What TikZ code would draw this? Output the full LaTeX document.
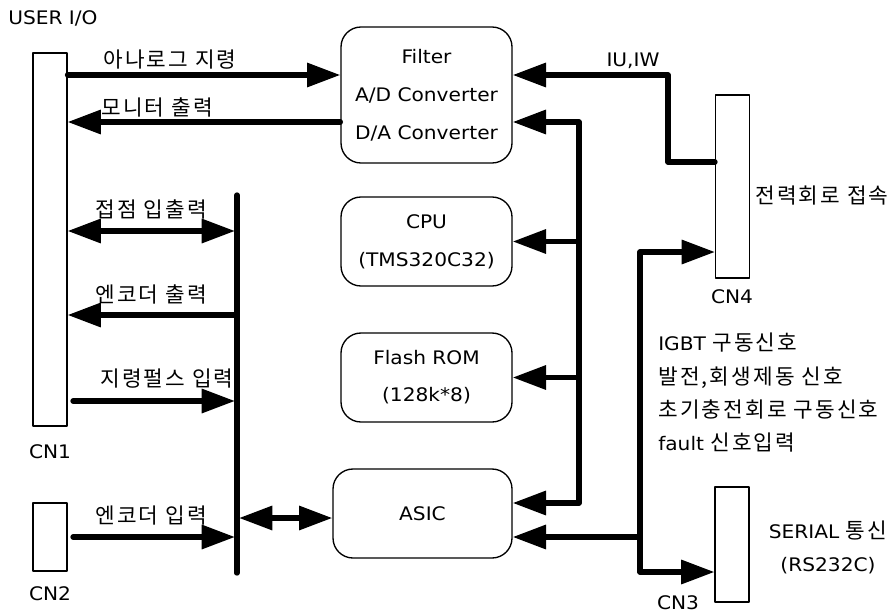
\documentclass[tikz,border=0pt]{standalone}
\usepackage{fontspec}
\setmainfont[FakeStretch=1.08]{DejaVu Sans}
\newfontfamily\kr[LetterSpace=10]{Noto Sans CJK KR}
\newcommand{\kor}[1]{{\kr\fontsize{16pt}{25pt}\selectfont #1}}
\usetikzlibrary{arrows.meta,positioning}

\begin{document}
\begin{tikzpicture}[x=0.75pt,y=-0.75pt,>={Triangle[length=25pt,width=17.5pt]},line cap=round,line join=round]
        \tikzstyle{block}=[rectangle,rounded corners=15pt,draw,line width=1pt,minimum width=128.25pt,minimum height=66.75pt,align=center,font=\fontsize{14pt}{28.5pt}\selectfont]
        \tikzstyle{conn}=[rectangle,draw,line width=0.8pt,minimum width=25.5pt,inner sep=0pt]
        \tikzstyle{lbl}=[inner sep=0pt,font=\fontsize{14pt}{17pt}\selectfont]
        \tikzstyle{sig}=[inner sep=0pt,font=\kr\fontsize{16pt}{18pt}\selectfont]
        \tikzstyle{bus}=[line width=4pt]
        \useasboundingbox (0,0) rectangle (895,614);

        % connectors
        \node[lbl,anchor=west] (userio) at (8,18) {USER I/O};
        \node[conn,minimum height=279.75pt] (cn1) at (50,239.5) {};
        \node[lbl] (cn1lbl) at (50,452) {CN1};
        \node[conn,minimum height=51pt] (cn2) at (50,537) {};
        \node[lbl] (cn2lbl) at (50,594) {CN2};
        \node[conn,minimum height=137.25pt] (cn4) at (732.5,186.5) {};
        \node[lbl] (cn4lbl) at (732,297) {CN4};
        \node[sig,anchor=west] (power) at (755,196) {전력회로 접속};
        \node[conn,minimum height=86.25pt] (cn3) at (732,544.5) {};
        \node[lbl] (cn3lbl) at (678,603) {CN3};
        \node[lbl,align=center,font=\fontsize{14pt}{24.75pt}\selectfont] (serial) at (828,547) {SERIAL \kor{통신}\\(RS232C)};

        % blocks
        \node[block,minimum height=102pt] (filter) at (426.5,95) {Filter\\A/D Converter\\D/A Converter};
        \node[block] (cpu) at (426.5,241.5) {CPU\\(TMS320C32)};
        \node[block,font=\fontsize{14pt}{27.75pt}\selectfont] (flash) at (426.5,377.5) {Flash ROM\\(128k*8)};
        \node[block,minimum width=134.25pt] (asic) at (422.5,513.5) {ASIC};

        % signal labels
        \node[sig] (analog) at (170,60) {아나로그 지령};
        \node[sig] (monitor) at (157,107) {모니터 출력};
        \node[sig] (contact) at (151,209) {접점 입출력};
        \node[sig] (encout) at (151,294) {엔코더 출력};
        \node[sig] (pulse) at (167,379) {지령펄스 입력};
        \node[sig] (encin) at (151,516) {엔코더 입력};
        \node[lbl] (iuiw) at (633,61) {IU,IW};
        \node[lbl,anchor=west,align=left,font=\fontsize{14pt}{25pt}\selectfont] (igbt) at (658,393)
            {IGBT \kor{구동신호}\\\kor{발전,회생제동 신호}\\\kor{초기충전회로 구동신호}\\fault \kor{신호입력}};

        % bus points
        \coordinate (lbtop) at (237,195);
        \coordinate (lbbot) at (237,573);
        \coordinate (rbtop) at (579,122);
        \coordinate (rbbot) at (579,503);
        \coordinate (pbtop) at (640,252);
        \coordinate (pbbot) at (640,572);
        \coordinate (ana) at (668,75);
        \coordinate (iu) at (668,162);
        \coordinate (dio) at (237,231);
        \coordinate (eout) at (237,315);
        \coordinate (pin) at (73,401);
        \coordinate (ein) at (73,537);
        \coordinate (abus) at (237,518);
        \coordinate (asicin) at (640,537);

        % analog side
        \draw[bus,->] (ana -| cn1.east) -- (ana -| filter.west);
        \draw[bus,->] (rbtop -| filter.west) -- (rbtop -| cn1.east);
        \draw[bus,->] (iu -| cn4.west) -- (iu) -- (ana) -- (ana -| filter.east);

        % cpu bus
        \draw[bus,->] (rbbot) -- (rbtop) -- (rbtop -| filter.east);
        \draw[bus,->] (rbtop |- cpu.east) -- (cpu.east);
        \draw[bus,->] (rbtop |- flash.east) -- (flash.east);
        \draw[bus,->] (rbbot) -- (rbbot -| asic.east);

        % power side
        \draw[bus,->] (pbbot) -- (pbtop) -- (pbtop -| cn4.west);
        \draw[bus,->] (pbbot) -- (pbbot -| cn3.west);
        \draw[bus,->] (asicin) -- (asicin -| asic.east);

        % user i/o bus
        \draw[bus] (lbtop) -- (lbbot);
        \draw[bus,<->,shorten >=1.5pt] (dio -| cn1.east) -- (dio);
        \draw[bus,->] (eout) -- (eout -| cn1.east);
        \draw[bus,->,shorten >=1.5pt] (pin) -- (pin -| lbtop);
        \draw[bus,->,shorten >=1.5pt] (ein) -- (ein -| lbtop);
        \draw[bus,<->,shorten <=1.5pt] (abus) -- (abus -| asic.west);
\end{tikzpicture}
\end{document}
